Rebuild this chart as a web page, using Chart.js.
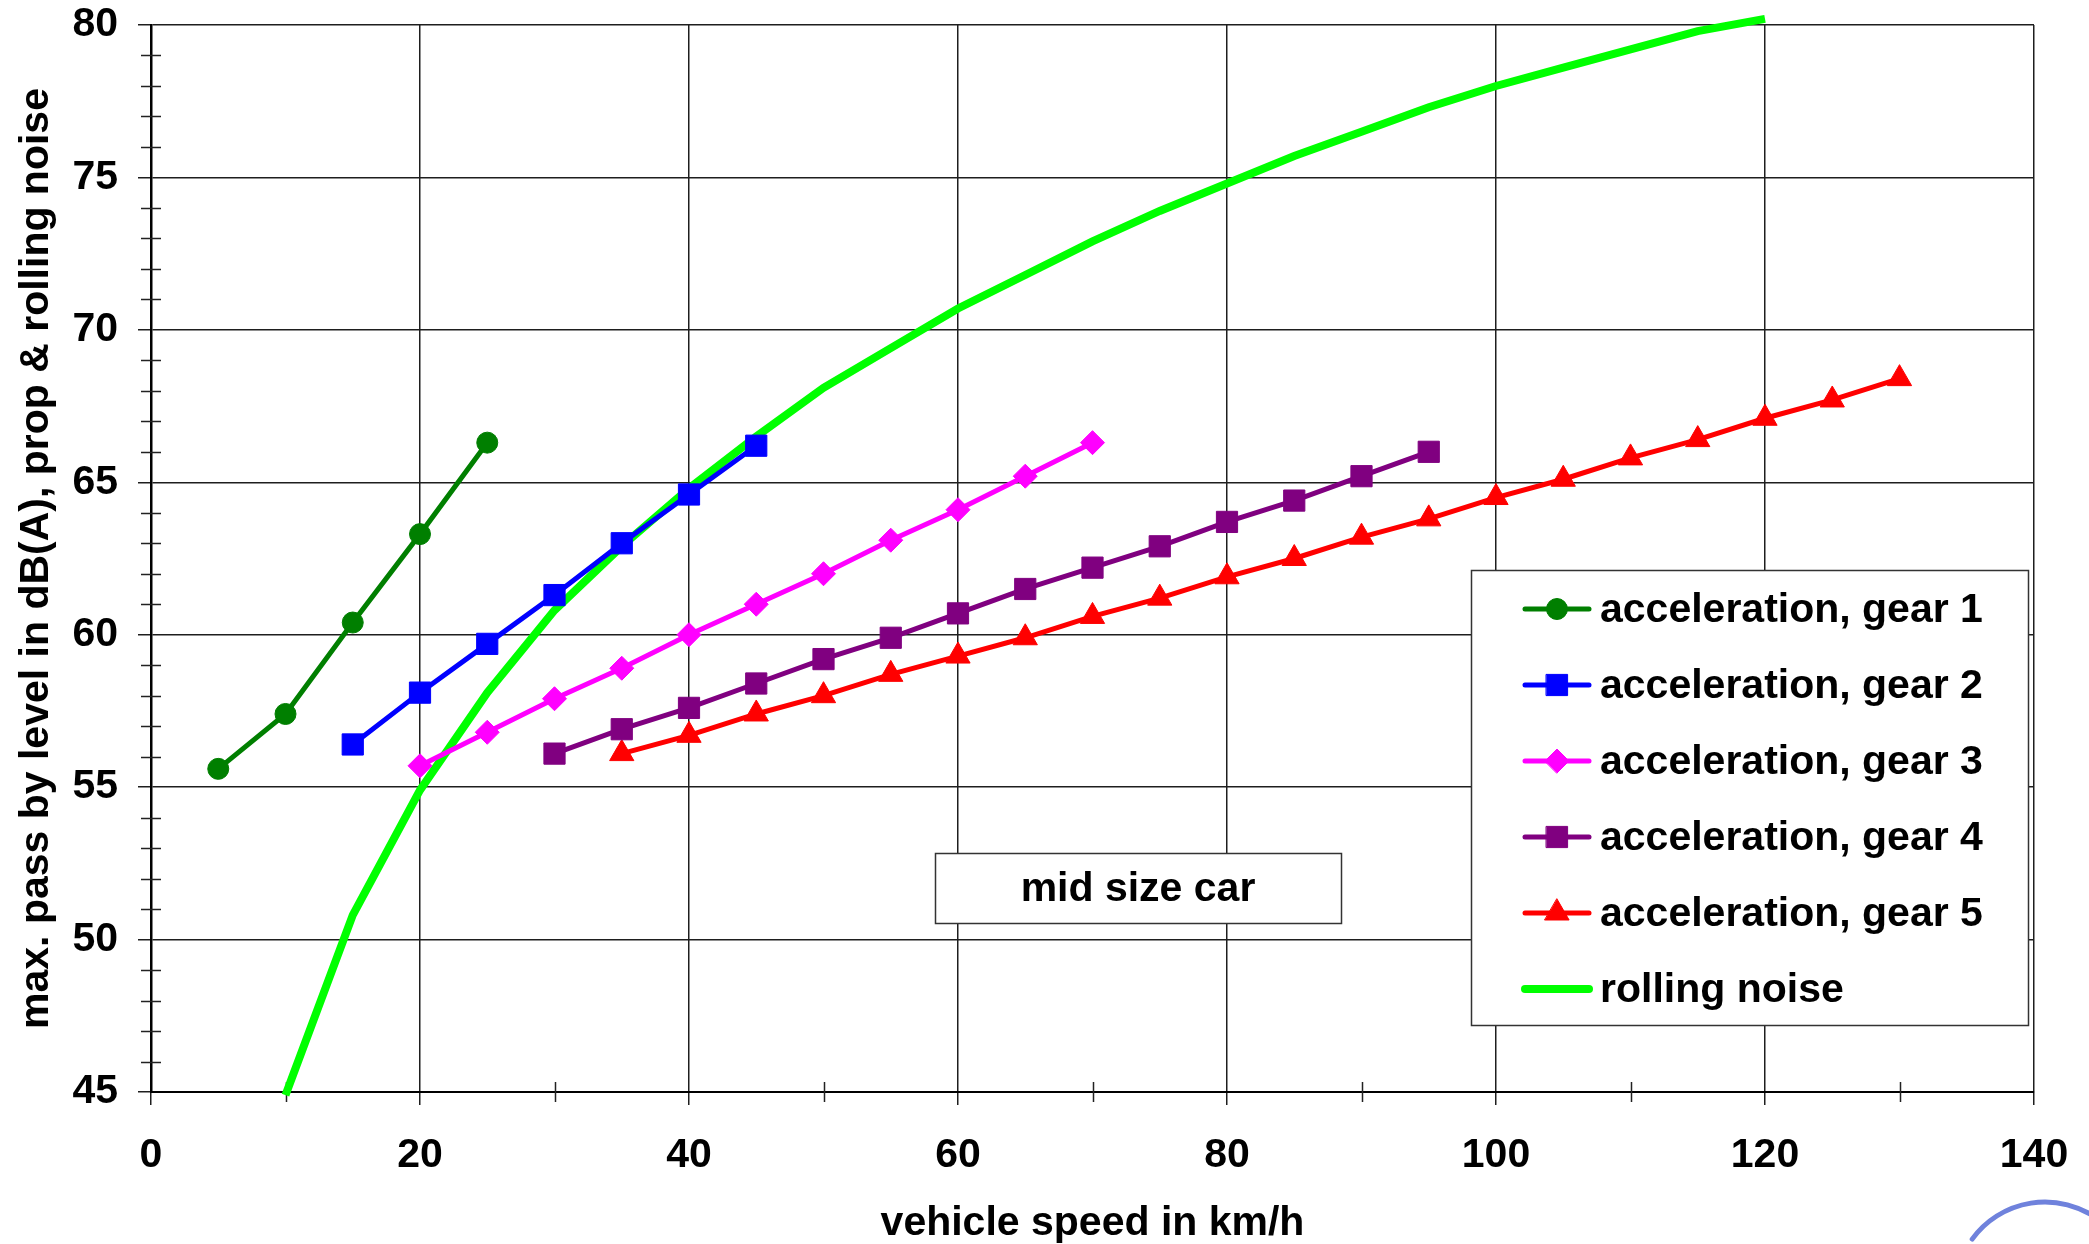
<!DOCTYPE html>
<html>
<head>
<meta charset="utf-8">
<script src="https://cdn.jsdelivr.net/npm/chart.js@4/dist/chart.umd.min.js"></script>
<style>
  body { margin: 0; background: #fff; }
  canvas { display: block; }
</style>
</head>
<body>
<canvas id="myChart" width="2089" height="1244"></canvas>
<script>
// speeds in km/h, levels in dB(A)
const speedsGear1 = [5, 10, 15, 20, 25];
const levelsGear1 = [55.6, 57.4, 60.4, 63.3, 66.3];

const speedsGear2 = [15, 20, 25, 30, 35, 40, 45];
const levelsGear2 = [56.4, 58.1, 59.7, 61.3, 63.0, 64.6, 66.2];

const speedsGear3 = [20, 25, 30, 35, 40, 45, 50, 55, 60, 65, 70];
const levelsGear3 = [55.7, 56.8, 57.9, 58.9, 60.0, 61.0, 62.0, 63.1, 64.1, 65.2, 66.3];

const speedsGear4 = [30, 35, 40, 45, 50, 55, 60, 65, 70, 75, 80, 85, 90, 95];
const levelsGear4 = [56.1, 56.9, 57.6, 58.4, 59.2, 59.9, 60.7, 61.5, 62.2, 62.9, 63.7, 64.4, 65.2, 66.0];

const speedsGear5 = [35, 40, 45, 50, 55, 60, 65, 70, 75, 80, 85, 90, 95, 100, 105, 110, 115, 120, 125, 130];
const levelsGear5 = [56.1, 56.7, 57.4, 58.0, 58.7, 59.3, 59.9, 60.6, 61.2, 61.9, 62.5, 63.2, 63.8, 64.5, 65.1, 65.8, 66.4, 67.1, 67.7, 68.4];

const speedsRolling = [10, 15, 20, 25, 30, 35, 40, 45, 50, 55, 60, 65, 70, 75, 80, 85, 90, 95, 100, 105, 110, 115, 120];
const levelsRolling = [44.9, 50.8, 54.9, 58.1, 60.8, 62.9, 64.8, 66.5, 68.1, 69.4, 70.7, 71.8, 72.9, 73.9, 74.8, 75.7, 76.5, 77.3, 78.0, 78.6, 79.2, 79.8, 80.2];

const seriesLabels = ['acceleration, gear 1', 'acceleration, gear 2', 'acceleration, gear 3',
    'acceleration, gear 4', 'acceleration, gear 5', 'rolling noise'];
const boxLabel = 'mid size car';
const xTitle = 'vehicle speed in km/h';
const yTitle = 'max. pass by level in dB(A), prop & rolling noise';

const FONT = "'Liberation Sans', Arial, sans-serif";

function pts(xs, ys) {
    return xs.map((x, i) => ({ x: x, y: ys[i] }))
}

function gearSet(label, xs, ys, color, style, radius) {
    return {
        label: label,
        data: pts(xs, ys),
        borderColor: color,
        backgroundColor: color,
        borderWidth: 5,
        pointStyle: style,
        pointRadius: radius,
        pointBorderWidth: 1,
        tension: 0
    }
}

// minor ticks on both axes
const minorTicks = {
    id: 'minorTicks',
    beforeDatasetsDraw(chart) {
        const { ctx, chartArea, scales } = chart;
        ctx.save();
        ctx.strokeStyle = '#222';
        ctx.lineWidth = 1.5;
        ctx.beginPath();
        for (let v = 46; v < 80; v++) {
            if (v % 5 === 0) continue;
            const y = Math.round(scales.y.getPixelForValue(v)) + 0.5;
            ctx.moveTo(chartArea.left - 10, y);
            ctx.lineTo(chartArea.left + 10, y);
        }
        for (let v = 10; v < 140; v += 20) {
            const x = Math.round(scales.x.getPixelForValue(v)) + 0.5;
            ctx.moveTo(x, chartArea.bottom - 10);
            ctx.lineTo(x, chartArea.bottom + 10);
        }
        ctx.stroke();
        ctx.restore();
    }
}

// legend box and the "mid size car" note
const boxes = {
    id: 'boxes',
    afterDraw(chart) {
        const { ctx } = chart;
        ctx.save();
        ctx.fillStyle = '#fff';
        ctx.strokeStyle = '#333';
        ctx.lineWidth = 1.5;
        ctx.fillRect(1471, 570, 557, 455);
        ctx.strokeRect(1471.5, 570.5, 557, 455);
        ctx.font = 'bold 41px ' + FONT;
        ctx.textBaseline = 'middle';
        ctx.textAlign = 'left';
        chart.data.datasets.forEach((ds, i) => {
            const y = 609 + i * 76;
            ctx.strokeStyle = ds.borderColor;
            ctx.lineWidth = ds.borderWidth;
            ctx.lineCap = 'round';
            ctx.beginPath();
            ctx.moveTo(1525, y);
            ctx.lineTo(1589, y);
            ctx.stroke();
            if (ds.pointRadius > 0) {
                ctx.fillStyle = ds.backgroundColor;
                ctx.lineWidth = 1;
                Chart.helpers.drawPoint(ctx, { pointStyle: ds.pointStyle, radius: ds.pointRadius, rotation: 0, borderWidth: 1 }, 1557, y);
            }
            ctx.fillStyle = '#000';
            ctx.fillText(ds.label, 1600, y + 2);
        });

        ctx.fillStyle = '#fff';
        ctx.strokeStyle = '#333';
        ctx.lineWidth = 1.5;
        ctx.fillRect(935, 853, 406, 70);
        ctx.strokeRect(935.5, 853.5, 406, 70);
        ctx.fillStyle = '#000';
        ctx.font = 'bold 41px ' + FONT;
        ctx.textAlign = 'center';
        ctx.fillText(boxLabel, 1138, 890);

        // bit of a logo in the corner
        ctx.strokeStyle = '#6f82dc';
        ctx.lineWidth = 5;
        ctx.beginPath();
        ctx.arc(2045, 1292, 90, Math.PI * 1.2, Math.PI * 1.75);
        ctx.stroke();
        ctx.restore();
    }
}

const tickFont = { family: FONT, size: 41, weight: 'bold' };
const titleFont = { family: FONT, size: 41, weight: 'bold' };

new Chart(document.getElementById('myChart'), {
    type: 'line',
    data: {
        datasets: [
            gearSet(seriesLabels[0], speedsGear1, levelsGear1, '#007f00', 'circle', 10.5),
            gearSet(seriesLabels[1], speedsGear2, levelsGear2, '#0000ff', 'rect', 15),
            gearSet(seriesLabels[2], speedsGear3, levelsGear3, '#ff00ff', 'rectRot', 12),
            gearSet(seriesLabels[3], speedsGear4, levelsGear4, '#800080', 'rect', 15),
            gearSet(seriesLabels[4], speedsGear5, levelsGear5, '#ff0000', 'triangle', 14),
            {
                label: seriesLabels[5],
                data: pts(speedsRolling, levelsRolling),
                borderColor: '#00ff00',
                backgroundColor: '#00ff00',
                borderWidth: 8,
                pointRadius: 0,
                tension: 0,
                clip: { left: 10, top: 10, right: 10, bottom: 10 }
            }
        ]
    },
    options: {
        responsive: false,
        animation: false,
        layout: { padding: { left: 0, top: 25, right: 55, bottom: 0 } },
        plugins: { legend: { display: false }, tooltip: { enabled: false } },
        scales: {
            x: {
                type: 'linear',
                min: 0,
                max: 140,
                ticks: { stepSize: 20, font: tickFont, color: '#000', padding: 26, maxRotation: 0 },
                grid: { color: '#1e1e1e', lineWidth: 1.5, tickLength: 13 },
                border: { color: '#000', width: 2 },
                title: { display: true, text: xTitle, font: titleFont, color: '#000', padding: { top: 0, bottom: -4 } },
                afterFit(s) {
                    s.height = 152
                    s.paddingLeft = 0
                    s.paddingRight = 0
                }
            },
            y: {
                min: 45,
                max: 80,
                ticks: { stepSize: 5, font: tickFont, color: '#000', padding: 20 },
                grid: { color: '#1e1e1e', lineWidth: 1.5, tickLength: 13 },
                border: { color: '#000', width: 2.5 },
                title: { display: true, text: yTitle, font: titleFont, color: '#000', padding: { top: 12, bottom: 0 } },
                afterFit(s) {
                    s.width = 151
                    s.paddingTop = 0
                    s.paddingBottom = 0
                }
            }
        }
    },
    plugins: [minorTicks, boxes]
})
</script>
</body>
</html>
